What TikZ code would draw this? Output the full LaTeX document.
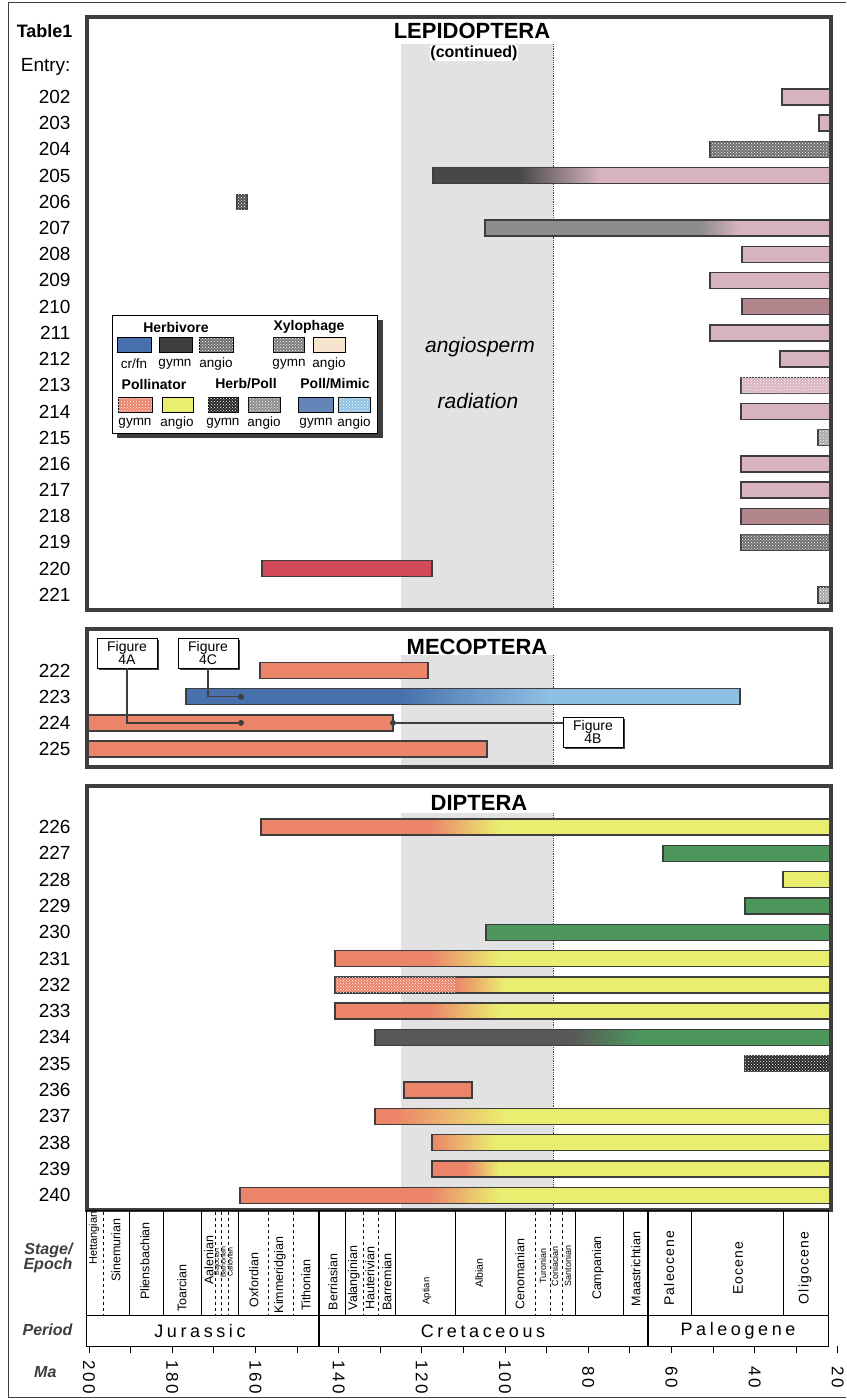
\documentclass[tikz,border=0pt]{standalone}
\usepackage{fontspec}
\setmainfont{Liberation Sans}
\usetikzlibrary{patterns, shadows}

\definecolor{frame}{RGB}{62,62,62}
\definecolor{band}{RGB}{226,226,226}
\definecolor{pinkb}{RGB}{216,180,192}
\definecolor{mauve}{RGB}{178,134,140}
\definecolor{speckb}{RGB}{112,112,112}
\definecolor{crimson}{RGB}{210,74,90}
\definecolor{salmon}{RGB}{236,132,106}
\definecolor{yellowb}{RGB}{234,238,112}
\definecolor{greenb}{RGB}{76,150,92}
\definecolor{slate}{RGB}{88,88,88}
\definecolor{blued}{RGB}{72,112,172}
\definecolor{bluel}{RGB}{142,192,228}
\definecolor{beige}{RGB}{246,228,206}
\definecolor{darkb}{RGB}{40,40,40}

% bar with two colours and a blend: y, x1, xa, xb, x2, colA, colB
\newcommand{\gbar}[7]{%
  \fill[#6] ({#2},{#1-8}) rectangle ({#3},{#1+8});
  \shade[left color=#6, right color=#7] ({#3},{#1-8}) rectangle ({#4},{#1+8});
  \fill[#7] ({#4},{#1-8}) rectangle ({#5},{#1+8});
  \draw[barline] ({#2},{#1-8}) rectangle ({#5},{#1+8});}
% plain bar: y, x1, x2, style
\newcommand{\sbar}[4]{\draw[barline, #4] ({#2},{#1-8}) rectangle ({#3},{#1+8});}

\begin{document}
\begin{tikzpicture}[x=1pt, y=-1pt,
  panel/.style={draw=frame, line width=4pt},
  barline/.style={draw=frame, line width=1.4pt},
  speck/.style={fill=#1, postaction={pattern=crosshatch dots, pattern color=white}},
  tline/.style={draw=black, line width=0.9pt},
  entry/.style={anchor=east, font=\fontsize{19}{19}\selectfont},
  title/.style={font=\fontsize{22}{22}\selectfont\bfseries, fill=white, inner sep=0.5pt},
  figbox/.style={draw=black, fill=white, line width=0.8pt, align=center,
                 font=\fontsize{14}{12}\selectfont, minimum width=60pt, minimum height=30pt,
                 inner sep=1pt, drop shadow={shadow xshift=2pt, shadow yshift=-2pt, opacity=1, fill=frame}},
  dotn/.style={circle, fill=frame, inner sep=0pt, minimum size=6pt},
  swatch/.style={draw=black, line width=1pt},
  lhead/.style={font=\fontsize{14}{14}\selectfont\bfseries},
  llab/.style={font=\fontsize{13.5}{13.5}\selectfont},
  stagel/.style={rotate=90, font=\fontsize{12.5}{12.5}\selectfont, inner sep=0pt},
  stages/.style={rotate=90, font=\fontsize{7}{7}\selectfont, inner sep=0pt},
  epochl/.style={rotate=90, font=\fontsize{14}{14}\selectfont\addfontfeature{LetterSpace=8}, inner sep=0pt},
  periodl/.style={font=\fontsize{18}{18}\selectfont\addfontfeature{LetterSpace=20}},
  rowhead/.style={anchor=east, align=right, text=frame, font=\fontsize{16}{15}\selectfont\bfseries\itshape},
  malab/.style={rotate=-90, font=\fontsize{17}{17}\selectfont\addfontfeature{LetterSpace=15}}
]
\useasboundingbox (0,0) rectangle (846,1399);
\draw[frame, line width=1pt] (846,3) -- (8,3) -- (8,1397) -- (846,1397);

% angiosperm radiation band
\fill[band] (401,44) rectangle (553,608);
\fill[band] (401,655) rectangle (553,766);
\fill[band] (401,813) rectangle (553,1208);
\foreach \ya/\yb in {44/608, 655/766, 813/1208}
  \draw[frame, densely dotted, line width=0.8pt] (553,\ya) -- (553,\yb);

\node[font=\fontsize{21}{21}\selectfont\itshape] (angio) at (480,347) {angiosperm};
\node[font=\fontsize{21}{21}\selectfont\itshape] (radia) at (478,401) {radiation};

% left column
\node[anchor=east, font=\fontsize{18}{18}\selectfont\bfseries] (table) at (76,31) {Table1};
\node[entry] (entry) at (74,67) {Entry:};
\foreach \n in {202,...,221}
  \node[entry] (e\n) at (74,{97+(\n-202)*26.2}) {\n};
\foreach \n in {222,...,225}
  \node[entry] (e\n) at (74,{670.5+(\n-222)*26.2}) {\n};
\foreach \n in {226,...,240}
  \node[entry] (e\n) at (74,{827+(\n-226)*26.3}) {\n};

% LEPIDOPTERA bars
\foreach \n/\xa/\col in {202/782/pinkb, 203/819/pinkb, 208/742/pinkb, 209/710/pinkb,
    210/742/mauve, 211/710/pinkb, 212/780/pinkb, 214/741/pinkb, 216/741/pinkb,
    217/741/pinkb, 218/741/mauve}
  \sbar{97+(\n-202)*26.2}{\xa}{830}{fill=\col}
\foreach \n/\xa/\col in {204/710/speckb, 213/741/pinkb, 215/818/speckb!60,
    219/741/speckb, 221/818/speckb!60}
  \sbar{97+(\n-202)*26.2}{\xa}{830}{speck=\col}
\gbar{175.6}{433}{520}{600}{830}{darkb!85}{pinkb}
\gbar{228}{485}{700}{740}{830}{speckb!80}{pinkb}
\draw[barline, speck=darkb!80] (237,195) rectangle (247,209);
\sbar{568.6}{262}{432}{fill=crimson}

% legend
\fill[frame] (117,320) rectangle (383,438);
\node[draw=black, fill=white, line width=1pt, minimum width=265pt, minimum height=118pt,
      inner sep=0pt] (legend) at (244.5,374) {};
\node[lhead] (hherb) at (176,327) {Herbivore};
\node[lhead] (hxylo) at (309,327) {Xylophage};
\node[lhead] (hpoll) at (154,384) {Pollinator};
\node[lhead] (hhp) at (246,384) {Herb/Poll};
\node[lhead] (hpm) at (335,384) {Poll/Mimic};
\draw[swatch, fill=blued] (117,337) rectangle (151,352);
\draw[swatch, fill=darkb!90] (159,337) rectangle (192,352);
\draw[swatch, speck=speckb] (199,337) rectangle (233,352);
\draw[swatch, speck=speckb!90] (273,337) rectangle (304,352);
\draw[swatch, fill=beige] (313,337) rectangle (345,352);
\draw[swatch, speck=salmon] (118,397) rectangle (152,412);
\draw[swatch, fill=yellowb] (162,397) rectangle (193,412);
\draw[swatch, speck=darkb] (208,397) rectangle (238,412);
\draw[swatch, speck=speckb!80] (248,397) rectangle (280,412);
\draw[swatch, fill=blued!85] (298,397) rectangle (333,412);
\draw[swatch, speck=bluel] (338,397) rectangle (370,412);
\foreach \x/\t [count=\i] in {134/{cr/fn}, 175/gymn, 216/angio, 289/gymn, 329/angio}
  \node[llab] (la\i) at (\x,364) {\t};
\foreach \x/\t [count=\i] in {135/gymn, 177/angio, 223/gymn, 264/angio, 316/gymn, 354/angio}
  \node[llab] (lb\i) at (\x,423) {\t};

% MECOPTERA bars
\sbar{670.5}{260}{428}{fill=salmon}
\gbar{696.7}{186}{400}{550}{740}{blued}{bluel}
\sbar{722.9}{87}{393}{fill=salmon}
\sbar{749.1}{87}{487}{fill=salmon}

% DIPTERA bars
\gbar{827}{261}{430}{500}{830}{salmon}{yellowb}
\sbar{853.3}{663}{830}{fill=greenb}
\sbar{879.6}{783}{830}{fill=yellowb}
\sbar{905.9}{745}{830}{fill=greenb}
\sbar{932.2}{486}{830}{fill=greenb}
\gbar{958.5}{335}{430}{500}{830}{salmon}{yellowb}
\gbar{984.8}{335}{455}{505}{830}{salmon}{yellowb}
\fill[pattern=crosshatch dots, pattern color=white] (335,976.8) rectangle (455,992.8);
\gbar{1011.1}{335}{430}{500}{830}{salmon}{yellowb}
\gbar{1037.4}{375}{570}{640}{830}{slate}{greenb}
\sbar{1063.7}{745}{830}{speck=darkb}
\sbar{1090}{404}{472}{fill=salmon}
\gbar{1116.3}{375}{395}{505}{830}{salmon}{yellowb}
\gbar{1142.6}{432}{432}{495}{830}{salmon}{yellowb}
\gbar{1168.9}{432}{465}{500}{830}{salmon}{yellowb}
\gbar{1195.2}{240}{430}{500}{830}{salmon}{yellowb}

% panels
\draw[panel] (87,17) rectangle (831,610);
\draw[panel] (87,629) rectangle (831,767);
\draw[panel] (87,786) rectangle (831,1210);
\node[title] (lepi) at (472,31) {LEPIDOPTERA};
\node[font=\fontsize{16}{16}\selectfont\bfseries, fill=white, inner sep=0.5pt] (cont) at (474,53) {(continued)};
\node[title] (meco) at (477,647) {MECOPTERA};
\node[title] (dipt) at (479,803) {DIPTERA};

% figure call-outs
\node[figbox] (fig4a) at (127,653) {Figure\\4A};
\node[figbox] (fig4c) at (208,653) {Figure\\4C};
\node[figbox] (fig4b) at (593,732) {Figure\\4B};
\node[dotn] (dot4a) at (241,722.9) {};
\node[dotn] (dot4c) at (241,696.7) {};
\node[dotn] (dot4b) at (393,722.9) {};
\draw[frame, line width=1.2pt] (fig4a.south) |- (dot4a);
\draw[frame, line width=1.2pt] (fig4c.south) |- (dot4c);
\draw[frame, line width=1.2pt] (dot4b) -- (dot4b -| fig4b.west);

% time scale
\draw[tline] (86,1210) rectangle (828,1346);
\draw[tline] (86,1315) -- (828,1315);
\foreach \x in {129,163,201,238,345,395,455,505,575,623,691,783}
  \draw[tline] (\x,1210) -- (\x,1315);
\foreach \x in {319,648}
  \draw[tline, line width=1.3pt] (\x,1210) -- (\x,1346);
\foreach \x in {103,215,221,228,268,293,363,378,535,550,562}
  \draw[black, dashed, line width=0.6pt] (\x,1212) -- (\x,1315);
\foreach \x/\y/\s [count=\i] in {116/1250/Sinemurian, 145/1261/Pliensbachian,
    182/1288/Toarcian, 209/1260/Aalenian, 254/1280/Oxfordian, 280/1275/Kimmeridgian,
    306/1285/Tithonian, 333/1282/Berriasian, 354/1278/Valanginian, 370/1278/Hauterivian,
    387/1282/Barremian, 520/1274/Cenomanian, 598/1268/Campanian, 636/1269/Maastrichtian}
  \node[stagel] (st\i) at (\x,\y) {\s};
\node[stagel, font=\fontsize{11}{11}\selectfont] (hett) at (94,1238) {Hettangian};
\node[stagel, font=\fontsize{9.5}{9.5}\selectfont] (apt) at (427,1291) {Aptian};
\node[stagel, font=\fontsize{10.5}{10.5}\selectfont] (alb) at (479,1273) {Albian};
\foreach \x/\s [count=\i] in {217/Bajocian, 223/Bathonian, 230/Callovian}
  \node[stages] (ss\i) at (\x,1262) {\s};
\foreach \x/\s [count=\i] in {543/Turonian, 555/Coniacian, 568/Santonian}
  \node[stagel, font=\fontsize{9}{9}\selectfont] (sm\i) at (\x,1266) {\s};
\foreach \x/\s [count=\i] in {669/Paleocene, 738/Eocene, 805/Oligocene}
  \node[epochl] (ep\i) at (\x,1268) {\s};
\node[periodl] (jur) at (200,1331) {Jurassic};
\node[periodl] (cre) at (483,1331) {Cretaceous};
\node[periodl] (pal) at (738,1331) {Paleogene};
\foreach \m in {200,190,...,20}
  \draw[tline] ({89+(200-\m)*4.16},1346) -- ++(0,7);
\foreach \m in {200,180,...,20}
  \node[malab] (ma\m) at ({89+(200-\m)*4.16},1377) {\m};

\node[rowhead] (stg) at (76,1258) {Stage/\\Epoch};
\node[rowhead] (per) at (76,1330) {Period};
\node[rowhead] (mal) at (60,1372) {Ma};
\end{tikzpicture}
\end{document}
